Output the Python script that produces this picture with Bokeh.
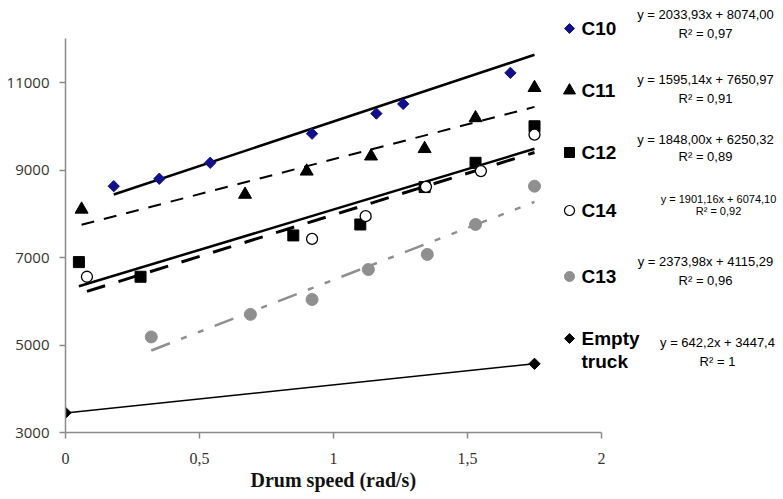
import numpy as np
from bokeh.plotting import figure
from bokeh.models import Range1d, FixedTicker, Title
from bokeh.core.properties import value
from bokeh.embed import file_html
from bokeh.resources import INLINE

# ---------------- data ----------------
c10_x = [0.18, 0.35, 0.54, 0.92, 1.16, 1.26, 1.66]
c10_y = [8630, 8800, 9165, 9830, 10290, 10510, 11220]
c11_x = [0.06, 0.67, 0.90, 1.14, 1.34, 1.53, 1.75]
c11_y = [8100, 8440, 8970, 9315, 9485, 10190, 10880]
c12_x = [0.05, 0.28, 0.85, 1.10, 1.34, 1.53, 1.75]
c12_y = [6895, 6560, 7505, 7755, 8610, 9165, 10000]
c14_x = [0.08, 0.92, 1.12, 1.345, 1.55, 1.75]
c14_y = [6560, 7425, 7945, 8615, 8975, 9810]
c13_x = [0.32, 0.69, 0.92, 1.13, 1.35, 1.53, 1.75]
c13_y = [5185, 5700, 6040, 6725, 7070, 7755, 8630]
empty_x = [0.0, 1.75]
empty_y = [3450, 4570]

series_names = ["C10", "C11", "C12", "C14", "C13", "Empty\ntruck"]
slopes = [2033.93, 1595.14, 1848.00, 1901.16, 2373.98, 642.2]
intercepts = [8074.00, 7650.97, 6250.32, 6074.10, 4115.29, 3447.4]
eq_line1 = ["y = 2033,93x + 8074,00", "y = 1595,14x + 7650,97", "y = 1848,00x + 6250,32",
            "y = 1901,16x + 6074,10", "y = 2373,98x + 4115,29", "y = 642,2x + 3447,4"]
eq_line2 = ["R\u00b2 = 0,97", "R\u00b2 = 0,91", "R\u00b2 = 0,89", "R\u00b2 = 0,92", "R\u00b2 = 0,96", "R\u00b2 = 1"]
trend_x_end = 1.75

x_ticks = [0, 0.5, 1, 1.5, 2]
x_tick_labels = ["0", "0,5", "1", "1,5", "2"]
y_ticks = [3000, 5000, 7000, 9000, 11000]
x_label = "Drum speed (rad/s)"

# ---------------- layout (pixels) ----------------
OX, OY = 2, 1                # where the canvas lands in the picture
W, H = 777, 494
FL, FB = 67, 433             # picture coords of frame left / bottom
BL = FL - OX
BB = (OY + H) - FB
FRAME_W = W - BL
FRAME_H = H - BB
PX_PER_X = 268.0             # px per x unit
PX_PER_Y = 0.04375           # px per y unit
X_END = FRAME_W / PX_PER_X
Y_END = 3000 + FRAME_H / PX_PER_Y


def dx(px):
    return (px - FL) / PX_PER_X


def dy(py):
    return 3000 + (FB - py) / PX_PER_Y


p = figure(width=W, height=H, output_backend="svg", toolbar_location=None,
           x_range=Range1d(0, X_END), y_range=Range1d(3000, Y_END),
           min_border_left=BL, min_border_right=0, min_border_top=0, min_border_bottom=BB)
p.outline_line_color = None
p.grid.visible = False
p.background_fill_color = "white"

AX = "#8a8a8a"
for ax in (p.xaxis[0], p.yaxis[0]):
    ax.axis_line_color = AX
    ax.axis_line_width = 1.5
    ax.major_tick_line_color = AX
    ax.major_tick_line_width = 1.5
    ax.major_tick_out = 6
    ax.major_tick_in = 0
    ax.minor_tick_line_color = None
    ax.major_label_text_color = "#333333"

p.xaxis.bounds = (0, 2)
p.yaxis.bounds = (3000, 12000)
p.xaxis.ticker = FixedTicker(ticks=x_ticks)
p.xaxis.major_label_overrides = {t: l for t, l in zip(x_ticks, x_tick_labels)}
p.xaxis.major_label_text_font = "Liberation Serif"
p.xaxis.major_label_text_font_size = "16px"
p.xaxis.major_label_standoff = 14
p.yaxis.ticker = FixedTicker(ticks=y_ticks)
p.yaxis.major_label_text_font = "Open Sans"
p.yaxis.major_label_text_font_size = "15px"
p.yaxis.major_label_standoff = 10

# x-axis title, centred under the 0..2 span (not the whole frame)
p.add_layout(Title(text=x_label, align="left", offset=185, standoff=0,
                   text_font="Liberation Serif", text_font_size="20px",
                   text_font_style="bold", text_color="#111111"), "below")

# ---------------- trend lines ----------------
series_x = [c10_x, c11_x, c12_x, c14_x, c13_x, empty_x]
line_styles = [
    dict(line_color="black", line_width=2.5, line_dash="solid"),
    dict(line_color="black", line_width=2.0, line_dash="13 10"),
    dict(line_color="black", line_width=2.5, line_dash="solid"),
    dict(line_color="black", line_width=3.0, line_dash="19 14"),
    dict(line_color="#8f8f8f", line_width=2.5, line_dash="20 12 6 12 6 12"),
    dict(line_color="black", line_width=1.5, line_dash="solid"),
]
for xs, a, b, st in zip(series_x, slopes, intercepts, line_styles):
    x0 = min(xs)
    lx = np.array([x0, trend_x_end])
    p.line(lx, a * lx + b, **st)

# ---------------- markers ----------------
NAVY = "#10108a"
GRAY = "#8f8f8f"
p.scatter(c10_x, c10_y, marker="square", angle=np.pi / 4, size=8, color=NAVY)
p.scatter(c11_x, c11_y, marker="triangle", size=13, color="black")
p.scatter(c12_x, c12_y, marker="square", size=11, color="black")
p.scatter(c14_x, c14_y, marker="circle", size=11, fill_color="white", line_color="black", line_width=1.3)
p.scatter(c13_x, c13_y, marker="circle", size=12, color=GRAY)
p.scatter(empty_x, empty_y, marker="square", angle=np.pi / 4, size=8, color="black")

# ---------------- legend (custom) ----------------
row_y = [29, 91, 153, 211, 277, 339]
eq1_y = [15, 80, 140, 199, 262, 343]
eq2_y = [34, 99, 157, 211, 281, 362]
eq_cx = [707, 707, 707, 720, 707, 719]
eq_size = ["13px", "13px", "13px", "11px", "13px", "13px"]
mk_x = 571
name_x = 583

leg_markers = [
    dict(marker="square", angle=np.pi / 4, size=7, color=NAVY),
    dict(marker="triangle", size=12, color="black"),
    dict(marker="square", size=10, color="black"),
    dict(marker="circle", size=10, fill_color="white", line_color="black", line_width=1.2),
    dict(marker="circle", size=10, color=GRAY),
    dict(marker="square", angle=np.pi / 4, size=7, color="black"),
]
for i, name in enumerate(series_names):
    p.scatter([dx(mk_x)], [dy(row_y[i])], **leg_markers[i])
    lines = name.split("\n")
    for j, ln in enumerate(lines):
        p.text([dx(name_x)], [dy(row_y[i] + j * 23)], text=[ln],
               text_font=value("Liberation Sans"), text_font_size="19px",
               text_font_style="bold", text_baseline="middle", text_align="left",
               text_color="black")
    p.text([dx(eq_cx[i])], [dy(eq1_y[i])], text=[eq_line1[i]],
           text_font=value("Liberation Sans"), text_font_size=eq_size[i],
           text_baseline="middle", text_align="center", text_color="black")
    p.text([dx(eq_cx[i])], [dy(eq2_y[i])], text=[eq_line2[i]],
           text_font=value("Liberation Sans"), text_font_size=eq_size[i],
           text_baseline="middle", text_align="center", text_color="black")

open("out.html", "w").write(file_html(p, INLINE))
